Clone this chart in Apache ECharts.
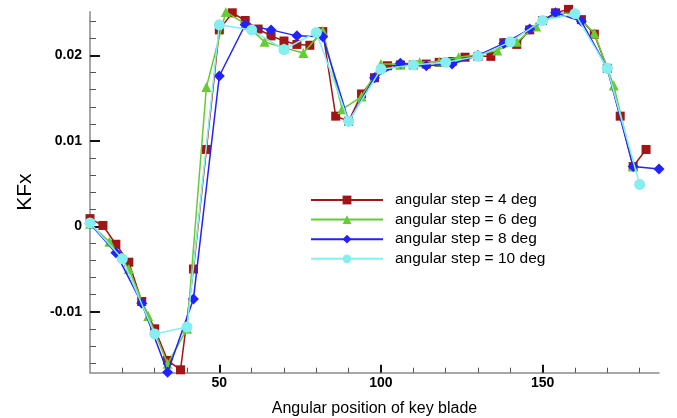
<!DOCTYPE html>
<html>
<head>
<meta charset="utf-8">
<script src="https://cdn.jsdelivr.net/npm/echarts@6/dist/echarts.min.js"></script>
<style>
  html, body { margin: 0; padding: 0; background: #fff; }
  #chart { width: 677px; height: 418px; }
</style>
</head>
<body>
<div id="chart"></div>
<script>
// Force coefficient KFx against the angular position of the key blade,
// computed with four different angular steps.
const seriesNames = [
  'angular step = 4 deg',
  'angular step = 6 deg',
  'angular step = 8 deg',
  'angular step = 10 deg'
];

const step4X = [10, 14, 18, 22, 26, 30, 34, 38, 42, 46, 50, 54, 58, 62, 66, 70, 74, 78, 82, 86, 90,
  94, 98, 102, 106, 110, 114, 118, 122, 126, 130, 134, 138, 142, 146, 150, 154, 158, 162, 166,
  170, 174, 178, 182];
const step4Y = [0.0009, 0.0001, -0.0021, -0.0042, -0.0088, -0.0120, -0.0157, -0.0168, -0.0050,
  0.0090, 0.0230, 0.0250, 0.0241, 0.0231, 0.0223, 0.0217, 0.0213, 0.0212, 0.0228, 0.0129, 0.0123,
  0.0155, 0.0174, 0.0188, 0.0189, 0.0189, 0.0190, 0.0192, 0.0193, 0.0198, 0.0199, 0.0199, 0.0215,
  0.0213, 0.0230, 0.0241, 0.0250, 0.0254, 0.0242, 0.0225, 0.0185, 0.0129, 0.0070, 0.0090];

const step6X = [10, 16, 22, 28, 34, 40, 46, 52, 58, 64, 70, 76, 82, 88, 94, 100, 106, 112, 118,
  124, 130, 136, 142, 148, 154, 160, 166, 172, 178];
const step6Y = [0.0003, -0.0018, -0.0050, -0.0105, -0.0161, -0.0120, 0.0163, 0.0251, 0.0237,
  0.0216, 0.0209, 0.0203, 0.0229, 0.0137, 0.0152, 0.0190, 0.0190, 0.0192, 0.0193, 0.0198, 0.0201,
  0.0206, 0.0216, 0.0234, 0.0250, 0.0249, 0.0226, 0.0165, 0.0070];

const step8X = [10, 18, 26, 34, 42, 50, 58, 66, 74, 82, 90, 98, 106, 114, 122, 130, 138, 146,
  154, 162, 170, 178, 186];
const step8Y = [0.0003, -0.0031, -0.0090, -0.0171, -0.0085, 0.0176, 0.0236, 0.0230, 0.0223,
  0.0222, 0.0123, 0.0174, 0.0191, 0.0188, 0.0190, 0.0200, 0.0214, 0.0231, 0.0250, 0.0240, 0.0185,
  0.0070, 0.0067];

const step10X = [10, 20, 30, 40, 50, 60, 70, 80, 90, 100, 110, 120, 130, 140, 150, 160, 170, 180];
const step10Y = [0.0004, -0.0038, -0.0126, -0.0118, 0.0236, 0.0230, 0.0207, 0.0227, 0.0123,
  0.0184, 0.0189, 0.0192, 0.0199, 0.0216, 0.0241, 0.0249, 0.0185, 0.0049];

// Axis ticks
const xMajorTicks = [50, 100, 150];
const xMinorTicks = [20, 30, 40, 60, 70, 80, 90, 110, 120, 130, 140, 160, 170, 180];
const yMajorTicks = [-0.01, 0, 0.01, 0.02];
const yMinorTicks = [-0.016, -0.014, -0.012, -0.008, -0.006, -0.004, -0.002, 0.002, 0.004,
  0.006, 0.008, 0.012, 0.014, 0.016, 0.018, 0.022, 0.024];

const X_MIN = 10, X_MAX = 186;
const Y_MIN = -0.01714, Y_MAX = 0.02513;

const FONT = '"Liberation Sans", Arial, Helvetica, sans-serif';

function pairs(xs, ys) {
  return xs.map((x, i) => [x, ys[i]]);
}

function yLabel(v) {
  if (Math.abs(v) < 1e-12) return '0';
  return String(Math.round(v * 100) / 100);
}

const styles = [
  { color: '#a01616', symbol: 'rect', size: 9 },
  { color: '#66cc33', symbol: 'triangle', size: 10 },
  { color: '#2222ff', symbol: 'diamond', size: 11 },
  { color: '#85eef0', symbol: 'circle', size: 11 }
];
const dataSets = [
  pairs(step4X, step4Y),
  pairs(step6X, step6Y),
  pairs(step8X, step8Y),
  pairs(step10X, step10Y)
];

const chart = echarts.init(document.getElementById('chart'), null, { renderer: 'canvas' });

chart.setOption({
  animation: false,
  backgroundColor: '#ffffff',
  grid: { left: 90, right: 18, top: 11.7, bottom: 45.3, containLabel: false, outerBoundsMode: 'none' },
  legend: {
    orient: 'vertical',
    left: 310,
    top: 192,
    padding: 0,
    itemWidth: 72,
    itemHeight: 11,
    itemGap: 3.6,
    textStyle: { fontFamily: FONT, fontSize: 15.5, color: '#000', padding: [0, 0, 0, 7] },
    data: seriesNames
  },
  xAxis: [
    {
      type: 'value',
      min: X_MIN,
      max: X_MAX,
      position: 'bottom',
      name: 'Angular position of key blade',
      nameLocation: 'middle',
      nameGap: 28,
      nameTextStyle: { fontFamily: FONT, fontSize: 16, color: '#000' },
      axisLine: { show: true, onZero: false, lineStyle: { color: '#8a8a8a', width: 1.5 } },
      axisTick: { show: true, inside: true, length: 8, customValues: xMajorTicks,
        lineStyle: { color: '#111', width: 2 } },
      axisLabel: { show: true, customValues: xMajorTicks, margin: 3,
        fontFamily: FONT, fontSize: 14, fontWeight: 'bold', color: '#000' },
      splitLine: { show: false }
    },
    {
      type: 'value',
      min: X_MIN,
      max: X_MAX,
      position: 'bottom',
      offset: 0,
      axisLine: { show: false, onZero: false },
      axisTick: { show: true, inside: true, length: 5, customValues: xMinorTicks,
        lineStyle: { color: '#555', width: 1 } },
      axisLabel: { show: false },
      splitLine: { show: false }
    }
  ],
  yAxis: [
    {
      type: 'value',
      min: Y_MIN,
      max: Y_MAX,
      position: 'left',
      name: 'KFx',
      nameLocation: 'middle',
      nameGap: 54,
      nameRotate: 90,
      nameTextStyle: { fontFamily: FONT, fontSize: 21, color: '#000' },
      axisLine: { show: true, onZero: false, lineStyle: { color: '#8a8a8a', width: 1.5 } },
      axisTick: { show: true, inside: true, length: 10, customValues: yMajorTicks,
        lineStyle: { color: '#111', width: 2 } },
      axisLabel: { show: true, customValues: yMajorTicks, margin: 8, formatter: yLabel,
        fontFamily: FONT, fontSize: 14, fontWeight: 'bold', color: '#000' },
      splitLine: { show: false }
    },
    {
      type: 'value',
      min: Y_MIN,
      max: Y_MAX,
      position: 'left',
      offset: 0,
      axisLine: { show: false, onZero: false },
      axisTick: { show: true, inside: true, length: 6, customValues: yMinorTicks,
        lineStyle: { color: '#555', width: 1 } },
      axisLabel: { show: false },
      splitLine: { show: false }
    }
  ],
  series: seriesNames.map((name, i) => ({
    name: name,
    type: 'line',
    xAxisIndex: 0,
    yAxisIndex: 0,
    data: dataSets[i],
    clip: false,
    symbol: styles[i].symbol,
    symbolSize: styles[i].size,
    showAllSymbol: true,
    color: styles[i].color,
    lineStyle: { color: styles[i].color, width: 1.5 },
    itemStyle: { color: styles[i].color },
    emphasis: { disabled: true },
    z: 2 + i
  }))
});
</script>
</body>
</html>
